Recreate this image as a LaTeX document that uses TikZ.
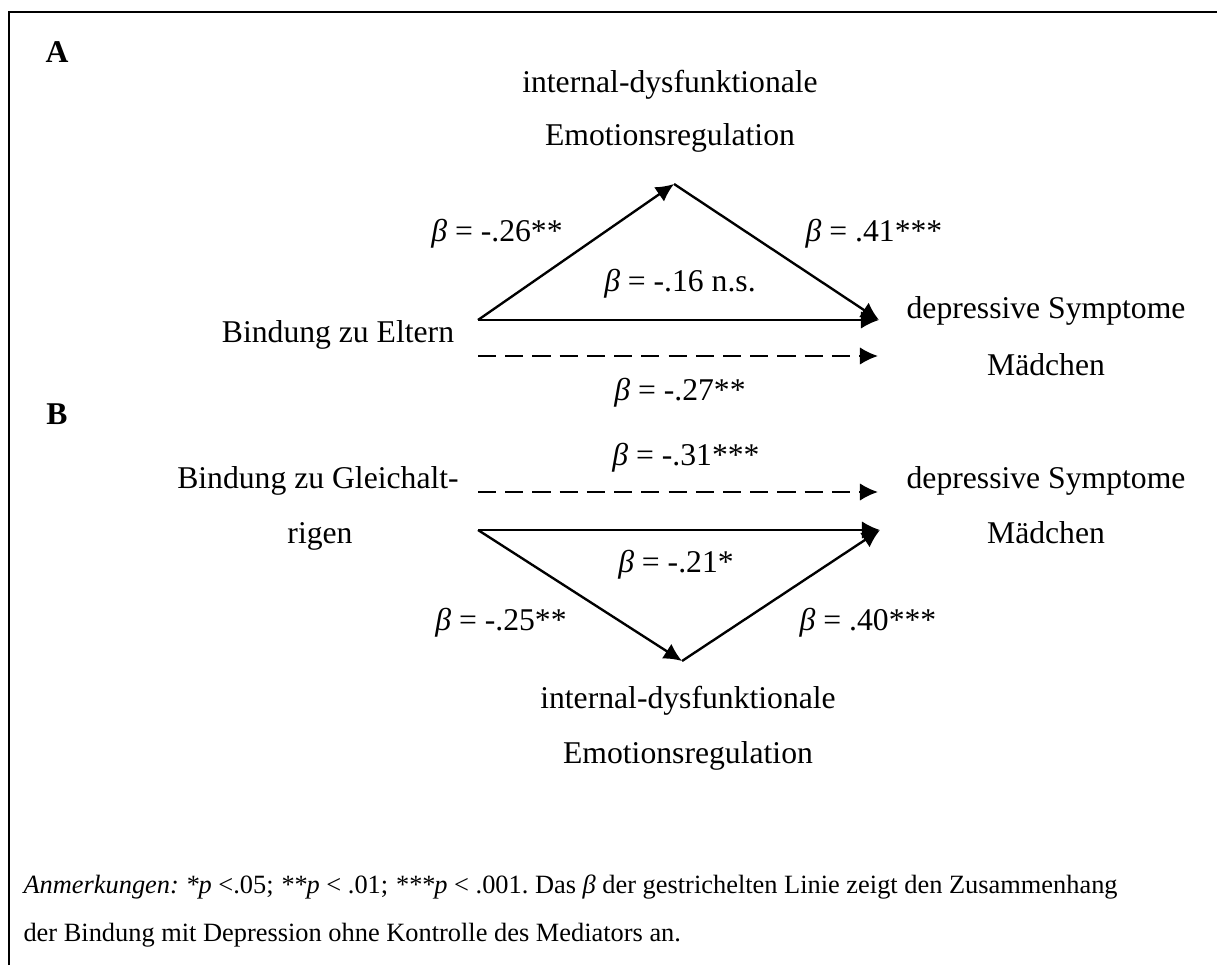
\documentclass[tikz,border=0pt]{standalone}
\usepackage{fontspec}
\setmainfont{Liberation Serif}
\usetikzlibrary{arrows.meta}

\tikzset{
  pfad/.style={line width=0.85pt,-{Latex[length=6.5pt,width=6.3pt]}},
  gestrichelt/.style={pfad,dash pattern=on 6.5pt off 3.3pt},
  txt/.style={font=\fontsize{11.4}{13}\selectfont,anchor=base,inner sep=0pt},
  buchst/.style={font=\fontsize{11.4}{13}\selectfont\bfseries,anchor=base,inner sep=0pt},
  notiz/.style={font=\fontsize{9.5}{11}\selectfont,anchor=base west,inner sep=0pt},
}
\newcommand{\bet}{\textit{β}}

\begin{document}
\frenchspacing
\begin{tikzpicture}[x=0.36pt,y=-0.36pt]
\useasboundingbox (0,0) rectangle (1217,965);
\draw[line width=0.8pt] (9,965) -- (9,12) -- (1217,12);

% Teil A
\node[buchst] (A) at (57,63) {A};
\node[txt] (emoA1) at (670,93) {internal-dysfunktionale};
\node[txt] (emoA2) at (670,146) {Emotionsregulation};
\node[txt] (elt) at (338,343) {Bindung zu Eltern};
\node[txt] (depA1) at (1046,319) {depressive Symptome};
\node[txt] (depA2) at (1046,375) {Mädchen};
\coordinate (a0) at (478,320);
\coordinate (a1) at (674,184);
\coordinate (a2) at (879,320);
\coordinate (d0) at (478,356);
\coordinate (d1) at (878,356);
\draw[pfad] (a0) -- (a1);
\draw[pfad] (a1) -- (a2);
\draw[pfad] (a0) -- (a2);
\draw[gestrichelt] (d0) -- (d1);
\node[txt] (bA1) at (497,242) {\bet{} = -.26**};
\node[txt] (bA2) at (874,242) {\bet{} = .41***};
\node[txt] (bA3) at (680,292) {\bet{} = -.16 n.s.};
\node[txt] (bA4) at (680,400) {\bet{} = -.27**};

% Teil B
\node[buchst] (B) at (57,424) {B};
\node[txt] (glr1) at (318,488) {Bindung zu Gleichalt-};
\node[txt] (glr2) at (320,543) {rigen};
\node[txt] (depB1) at (1046,488) {depressive Symptome};
\node[txt] (depB2) at (1046,543) {Mädchen};
\node[txt] (emoB1) at (688,708) {internal-dysfunktionale};
\node[txt] (emoB2) at (688,763) {Emotionsregulation};
\coordinate (b0) at (478,530);
\coordinate (b1) at (682,661);
\coordinate (b2) at (880,530);
\coordinate (e0) at (478,492);
\coordinate (e1) at (878,492);
\draw[gestrichelt] (e0) -- (e1);
\draw[pfad] (b0) -- (b1);
\draw[pfad] (b1) -- (b2);
\draw[pfad] (b0) -- (b2);
\node[txt] (bB1) at (686,465) {\bet{} = -.31***};
\node[txt] (bB2) at (676,572) {\bet{} = -.21*};
\node[txt] (bB3) at (501,630) {\bet{} = -.25**};
\node[txt] (bB4) at (868,630) {\bet{} = .40***};

% Anmerkung
\node[notiz] (n1) at (23,893) {\textit{Anmerkungen: *p} <.05; \textit{**p} < .01; \textit{***p} < .001. Das \bet{} der gestrichelten Linie zeigt den Zusammenhang};
\node[notiz] (n2) at (23,941) {der Bindung mit Depression ohne Kontrolle des Mediators an.};
\end{tikzpicture}
\end{document}
